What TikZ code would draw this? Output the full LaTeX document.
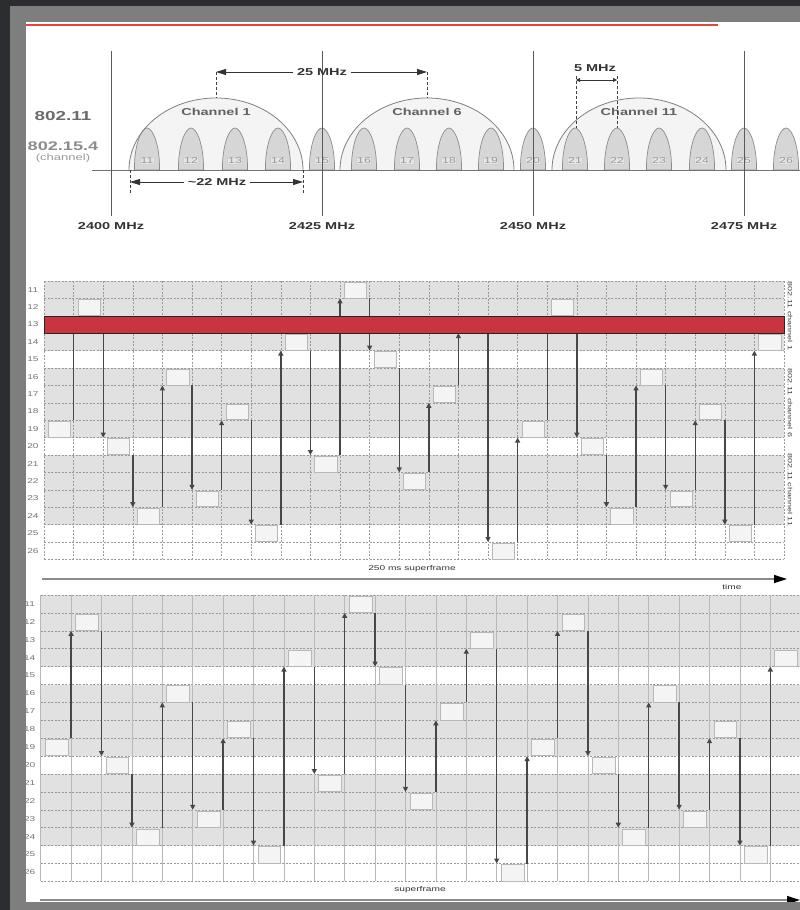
\documentclass[tikz,border=0pt]{standalone}
\usepackage{fontspec}
\setmainfont[FakeStretch=1.45]{Liberation Sans}
\usetikzlibrary{arrows.meta}
\definecolor{bgdark}{HTML}{2B2D31}
\definecolor{framegray}{HTML}{7E7E7E}
\definecolor{topred}{HTML}{E04646}
\definecolor{redbar}{HTML}{C9353F}
\definecolor{rowgray}{HTML}{E1E1E1}
\definecolor{slotfill}{HTML}{F4F4F4}
\definecolor{humpfill}{HTML}{D6D6D6}
\definecolor{domefill}{HTML}{F4F4F4}
\def\hopseq{19,12,20,24,16,23,18,25,14,21,11,15,22,17,13,26,19,12,20,24,16,23,18,25,14}
\tikzset{
  slotbox/.style={draw=black!28, fill=slotfill, line width=0.6pt, inner sep=0pt},
  hop/.style={draw=black!72, line width=1.4pt, -{Triangle[length=5pt,width=5pt]}},
  gridh/.style={draw=black!40, line width=0.5pt, dash pattern=on 2pt off 1.5pt},
  gridvd/.style={draw=black!40, line width=0.5pt, dash pattern=on 2pt off 1.5pt},
  gridvs/.style={draw=black!28, line width=0.6pt},
  rowlab/.style={text=black!55, font=\fontsize{7}{8}\selectfont},
  sidelab/.style={text=black!75, font=\fontsize{6.2}{7}\selectfont, rotate=-90},
  dome/.style={draw=black!50, line width=0.8pt},
  hump/.style={draw=black!45, fill=humpfill, line width=0.7pt},
  humplab/.style={text=black!40, font=\fontsize{8.5}{9}\selectfont, fill=black!10, draw=black!18, line width=0.4pt, inner sep=0.6pt},
  freqline/.style={draw=black!65, line width=1pt},
  freqlab/.style={text=black!80, font=\bfseries\fontsize{10}{11}\selectfont},
  dimlab/.style={text=black!80, font=\bfseries\fontsize{10}{11}\selectfont},
  chlab/.style={text=black!62, font=\bfseries\fontsize{10}{11}\selectfont},
  dimarrow/.style={draw=black!80, line width=0.9pt, -{Triangle[length=10pt,width=6pt]}},
  smallarrow/.style={draw=black!80, line width=0.8pt, {Triangle[length=4pt,width=4pt]}-{Triangle[length=4pt,width=4pt]}},
  dimtick/.style={draw=black!75, line width=0.9pt, dash pattern=on 3pt off 2pt},
  smalllab/.style={text=black!80, font=\fontsize{7}{8}\selectfont},
  axisline/.style={draw=black!45, line width=1.2pt, -{Triangle[length=13pt,width=8pt,color=black]}},
}
\newcommand{\hopchart}[6]{%
 \begin{scope}[shift={(#2,#3)}]
  \foreach \ra/\rb/\rc in {0/4/rowgray,4/5/white,5/9/rowgray,9/10/white,10/14/rowgray,14/16/white}
    \fill[fill=\rc] (0,{\ra*#5}) rectangle ({25*#4},{\rb*#5});
  \foreach \rj in {0,...,16}
    \draw[gridh] (0,{\rj*#5}) -- ({25*#4},{\rj*#5});
  \foreach \cj in {0,...,25}
    \draw[#6] ({\cj*#4},0) -- ({\cj*#4},{16*#5});
  \foreach \rj [evaluate=\rj as \rn using int(\rj+11)] in {0,...,15}
    \node[rowlab] (#1lab\rn) at (-11,{(\rj+0.5)*#5}) {\rn};
  \foreach \rr [count=\ci from 0] in \hopseq
    \node[slotbox, anchor=north west, minimum width={(#4-7.5)*1pt}, minimum height={(#5-1.6)*1pt}] (#1box\ci) at ({\ci*#4+4},{(\rr-11)*#5+0.8}) {};
  \foreach \rr [count=\ci from 0, remember=\rr as \rp (initially 0)] in \hopseq {
    \ifnum\ci>0
      \ifnum\rr<\rp
        \pgfmathsetmacro{\ya}{(\rp-11)*#5}\pgfmathsetmacro{\yb}{(\rr-10)*#5}
      \else
        \pgfmathsetmacro{\ya}{(\rp-10)*#5}\pgfmathsetmacro{\yb}{(\rr-11)*#5}
      \fi
      \coordinate (#1s\ci) at ({\ci*#4},\ya);
      \coordinate (#1e\ci) at ({\ci*#4},\yb);
      \draw[hop] (#1s\ci) -- (#1e\ci);
    \fi
  }
 \end{scope}}
\begin{document}
\begin{tikzpicture}[x=1pt,y=-1pt]
\useasboundingbox (0,0) rectangle (800,910);
\clip (0,0) rectangle (800,910);
\fill[white] (0,0) rectangle (800,910);
% top red rule
\draw[topred, line width=1.6pt] (26,25) -- (718,25);

% ---------- spectrum ----------
\foreach \cx in {216,427,639}
  \fill[domefill] ({\cx-87},170) arc[start angle=180,end angle=0,x radius=87pt,y radius=72pt];
\foreach \k/\hx in {11/147,12/191,13/235,14/278,15/322,16/364,17/407,18/449,19/491,20/533,21/575,22/617,23/659,24/702,25/744,26/786}{
  \draw[hump] ({\hx-12.5},170) .. controls ({\hx-13},146) and ({\hx-6},128) .. (\hx,128) .. controls ({\hx+6},128) and ({\hx+13},146) .. ({\hx+12.5},170) -- cycle;
  \node[humplab] (h\k) at (\hx,161) {\k};
}
\foreach \cx in {216,427,639}
  \draw[dome] ({\cx-87},170) arc[start angle=180,end angle=0,x radius=87pt,y radius=72pt];
\draw[black!55, line width=1pt] (92,170) -- (800,170);
\foreach \fx/\fl in {111/2400,322/2425,533/2450,744/2475}{
  \draw[freqline] (\fx,51) -- (\fx,216);
  \node[freqlab] (f\fl) at (\fx,226) {\fl\ MHz};
}
\node[chlab] (ch1) at (216,112) {Channel 1};
\node[chlab] (ch6) at (427,112) {Channel 6};
\node[chlab] (ch11) at (639,112) {Channel 11};
\node[text=black!58, font=\bfseries\fontsize{13}{14}\selectfont] (l80211) at (63,116) {802.11};
\node[text=black!45, font=\bfseries\fontsize{12.5}{14}\selectfont] (l802154) at (63,146) {802.15.4};
\node[text=black!40, font=\fontsize{9}{10}\selectfont] (lchan) at (63,158) {(channel)};
% 25 MHz
\node[dimlab] (d25) at (322,72) {25 MHz};
\coordinate (d25l) at (216,72); \coordinate (d25r) at (427,72);
\coordinate (d25lb) at (216,98); \coordinate (d25rb) at (427,98);
\draw[dimarrow] (d25.west) -- (d25l);
\draw[dimarrow] (d25.east) -- (d25r);
\draw[dimtick] (d25l) -- (d25lb);
\draw[dimtick] (d25r) -- (d25rb);
% ~22 MHz
\node[dimlab] (d22) at (217,182) {\textasciitilde22 MHz};
\coordinate (d22l) at (130,182); \coordinate (d22r) at (303,182);
\coordinate (d22lt) at (130,170); \coordinate (d22lb) at (130,193);
\coordinate (d22rt) at (303,170); \coordinate (d22rb) at (303,193);
\draw[dimarrow] (d22.west) -- (d22l);
\draw[dimarrow] (d22.east) -- (d22r);
\draw[dimtick] (d22lt) -- (d22lb);
\draw[dimtick] (d22rt) -- (d22rb);
% 5 MHz
\node[dimlab] (d5) at (595,68) {5 MHz};
\coordinate (d5l) at (576,80); \coordinate (d5r) at (617,80);
\coordinate (d5lt) at (576,76); \coordinate (d5lb) at (576,128);
\coordinate (d5rt) at (617,76); \coordinate (d5rb) at (617,128);
\draw[smallarrow] (d5l) -- (d5r);
\draw[dimtick] (d5lt) -- (d5lb);
\draw[dimtick] (d5rt) -- (d5rb);

% ---------- middle hopping chart ----------
\hopchart{m}{44}{281}{29.6}{17.4}{gridvd}
\draw[fill=redbar, draw=black!85, line width=0.8pt] (44,316.6) rectangle (784,333.2);
\node[sidelab] (s1) at (790,316) {802.11 channel 1};
\node[sidelab] (s6) at (790,403) {802.11 channel 6};
\node[sidelab] (s11) at (790,490) {802.11 channel 11};
\node[smalllab] (sf1) at (412,569) {250 ms superframe};
\coordinate (ta0) at (42,579); \coordinate (ta1) at (787,579);
\draw[axisline] (ta0) -- (ta1);
\node[smalllab] (tlab) at (732,587) {time};

% ---------- bottom hopping chart ----------
\hopchart{b}{40.7}{595}{30.4}{17.9}{gridvs}
\node[smalllab] (sf2) at (420,890) {superframe};
\coordinate (tb0) at (40,900); \coordinate (tb1) at (800,900);
\draw[axisline] (tb0) -- (tb1);

% ---------- frame ----------
\fill[framegray] (10,6) rectangle (800,22);
\fill[framegray] (10,6) rectangle (26,910);
\fill[framegray] (10,902) rectangle (800,910);
\fill[bgdark] (0,0) rectangle (800,6);
\fill[bgdark] (0,0) rectangle (10,910);
\end{tikzpicture}
\end{document}
